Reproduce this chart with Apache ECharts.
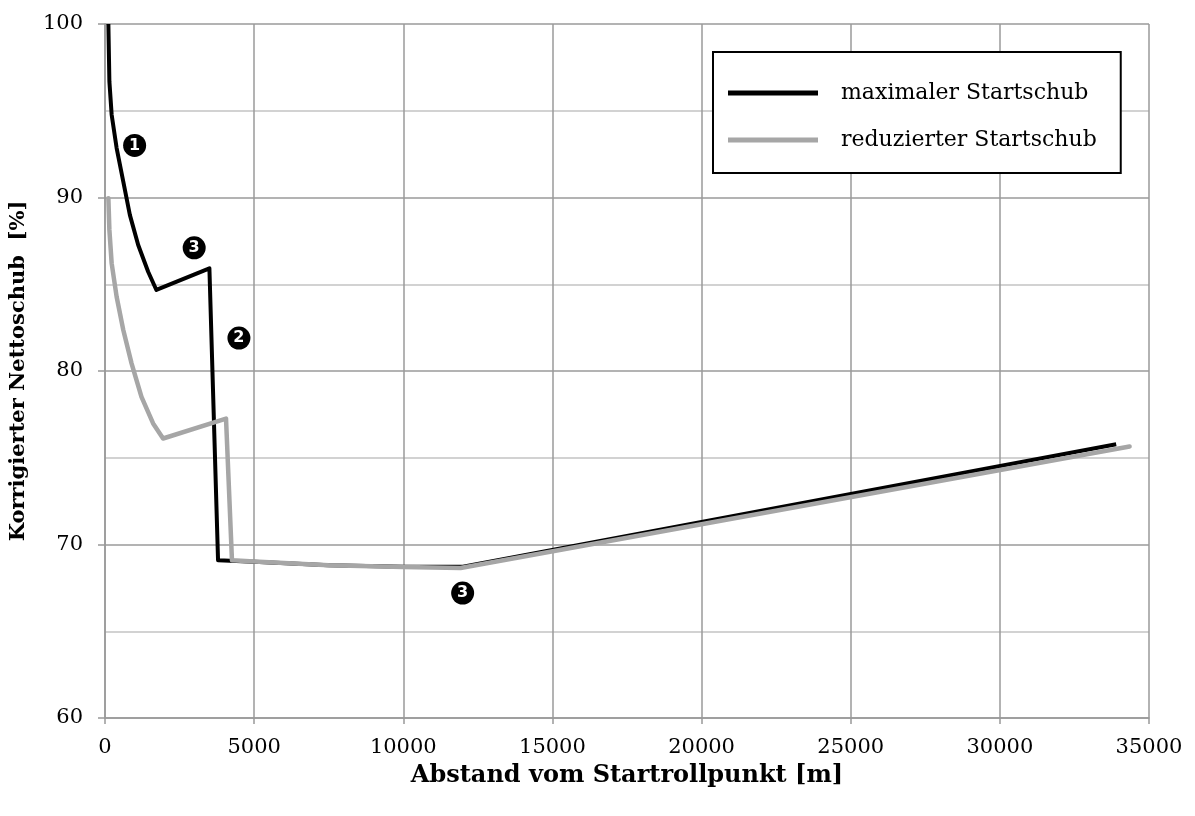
<!DOCTYPE html>
<html>
<head>
<meta charset="utf-8">
<script src="https://cdn.jsdelivr.net/npm/echarts@6/dist/echarts.min.js"></script>
<style>
  html, body { margin: 0; padding: 0; background: #fff; }
  #chart { width: 1195px; height: 816px; }
</style>
</head>
<body>
<div id="chart"></div>
<script>
// Distance from brake-release point [m] and corrected net thrust [%]
const maxThrust = [
  [113, 100.0], [147, 96.69], [223, 94.77], [390, 92.85], [613, 90.92],
  [833, 89.0], [1113, 87.26], [1447, 85.72], [1723, 84.67], [3500, 85.92],
  [3790, 69.09], [5000, 69.0], [7500, 68.8], [10000, 68.72], [12000, 68.72],
  [33900, 75.78]
];
const reducedThrust = [
  [113, 89.96], [147, 88.13], [223, 86.21], [390, 84.28], [613, 82.36],
  [890, 80.44], [1223, 78.51], [1613, 76.98], [1947, 76.11], [4057, 77.26],
  [4257, 69.09], [5000, 69.02], [7500, 68.8], [10000, 68.7], [11920, 68.65],
  [34350, 75.65]
];
// Numbered phase markers placed next to the curves
const phaseMarks = [
  { num: '1', x: 993, y: 93.0 },
  { num: '3', x: 2990, y: 87.1 },
  { num: '2', x: 4490, y: 81.9 },
  { num: '3', x: 11990, y: 67.2 }
];
const seriesNames = ['maximaler Startschub', 'reduzierter Startschub'];

const serif = '"DejaVu Serif", "Liberation Serif", serif';
const chart = echarts.init(document.getElementById('chart'), null, { renderer: 'canvas' });

chart.setOption({
  animation: false,
  backgroundColor: '#fff',
  grid: { left: 104, top: 24, right: 46, bottom: 98 },
  xAxis: {
    type: 'value', min: 0, max: 35000, interval: 5000,
    name: 'Abstand vom Startrollpunkt [m]',
    nameLocation: 'middle', nameGap: 46,
    nameTextStyle: { fontFamily: serif, fontWeight: 'bold', fontSize: 24, color: '#000' },
    axisLine: { show: true, lineStyle: { color: '#999', width: 1.5 } },
    axisTick: { show: true, length: 6, lineStyle: { color: '#999', width: 1.5 } },
    axisLabel: { fontFamily: serif, fontSize: 21, color: '#000', margin: 19, formatter: v => String(v) },
    splitLine: { show: true, lineStyle: { color: '#9a9a9a', width: 1.5 } }
  },
  yAxis: {
    type: 'value', min: 60, max: 100, interval: 10,
    name: 'Korrigierter Nettoschub  [%]',
    nameLocation: 'middle', nameGap: 76,
    nameTextStyle: { fontFamily: serif, fontWeight: 'bold', fontSize: 21, color: '#000' },
    axisLine: { show: true, lineStyle: { color: '#999', width: 1.5 } },
    axisTick: { show: true, length: 7, lineStyle: { color: '#999', width: 1.5 } },
    axisLabel: { fontFamily: serif, fontSize: 21, color: '#000', margin: 22 },
    splitLine: { show: true, lineStyle: { color: '#9a9a9a', width: 1.5 } },
    minorTick: { show: false, splitNumber: 2 },
    minorSplitLine: { show: true, lineStyle: { color: '#c4c4c4', width: 1.5 } }
  },
  legend: {
    show: true,
    orient: 'vertical',
    left: 713, top: 52,
    padding: [30, 24, 22, 15],
    itemGap: 25,
    itemWidth: 90, itemHeight: 5,
    borderColor: '#000', borderWidth: 2,
    backgroundColor: '#fff',
    icon: 'rect',
    textStyle: { fontFamily: serif, fontSize: 22, color: '#000', padding: [0, 0, 0, 18] },
    data: seriesNames
  },
  series: [
    {
      name: seriesNames[1], type: 'line', data: reducedThrust,
      showSymbol: false, smooth: false, z: 2,
      lineStyle: { color: '#a6a6a6', width: 4.5, cap: 'round', join: 'round' },
      itemStyle: { color: '#a6a6a6' }
    },
    {
      name: seriesNames[0], type: 'line', data: maxThrust,
      showSymbol: false, smooth: false, z: 1,
      lineStyle: { color: '#000', width: 4, join: 'round' },
      itemStyle: { color: '#000' }
    },
    {
      type: 'scatter', symbol: 'circle', symbolSize: 23, silent: true, z: 5,
      itemStyle: { color: '#000', opacity: 1 },
      data: phaseMarks.map(m => ({ value: [m.x, m.y], num: m.num })),
      label: {
        show: true, position: 'inside',
        formatter: p => p.data.num,
        fontFamily: '"DejaVu Sans", sans-serif', fontWeight: 'bold', fontSize: 16, color: '#fff'
      }
    }
  ]
});
</script>
</body>
</html>
